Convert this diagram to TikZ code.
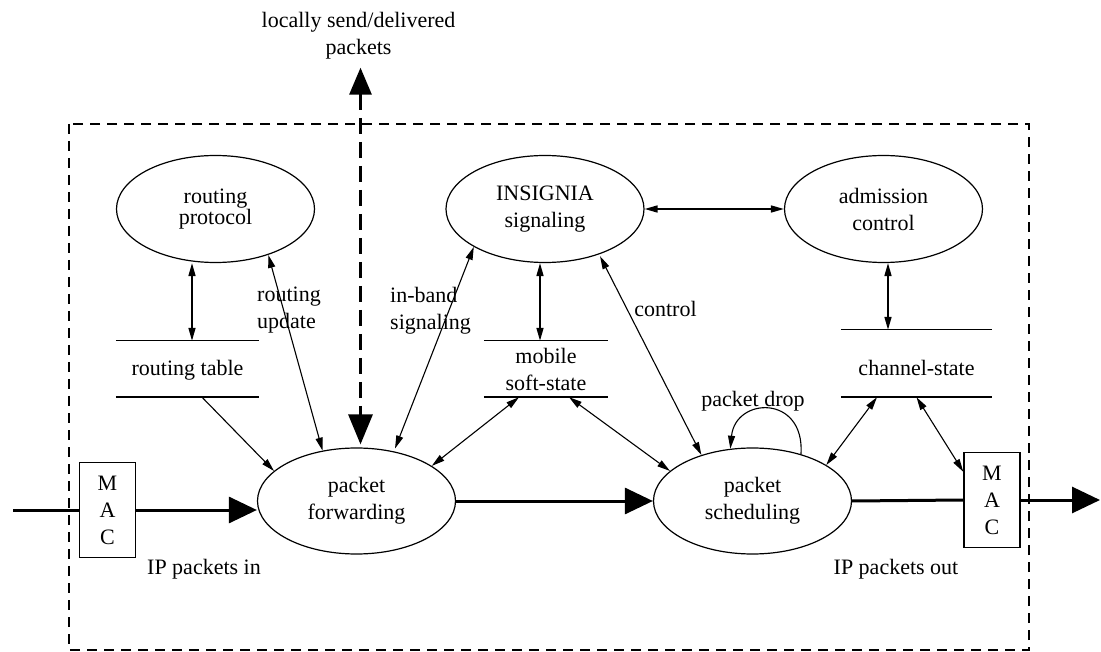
\documentclass[tikz,border=0pt]{standalone}
\usepackage{fontspec}
\setmainfont{Liberation Serif}
\usetikzlibrary{shapes.geometric,arrows.meta,calc}

\begin{document}
\begin{tikzpicture}[x=1pt,y=-1pt,
  every node/.style={font=\fontsize{22}{27}\selectfont, inner sep=0pt},
  proc/.style={ellipse, draw, line width=1.2pt, minimum width=198pt, minimum height=107pt, align=center},
  store/.style={minimum height=56pt, align=center},
  mac/.style={draw, line width=1.4pt, minimum width=56pt, minimum height=95pt, align=center},
  flow/.style={line width=3pt},
  bigtip/.style={-{Triangle[length=28pt,width=26pt]}},
  tw/.style={line width=1.1pt},
  tws/.style={line width=1.6pt},
  dbl/.style={{Triangle[length=13pt,width=7pt]}-{Triangle[length=13pt,width=7pt]}},
  sgl/.style={-{Triangle[length=13pt,width=7pt]}},
  lbl/.style={align=left},
  frame/.style={line width=1.3pt, dash pattern=on 10pt off 7pt},
  localflow/.style={line width=3pt, dash pattern=on 16pt off 8pt,
    {Triangle[length=27pt,width=22pt]}-{Triangle[length=30pt,width=24pt]}},
]
\useasboundingbox (0,0) rectangle (1101,652);

% node boundary
\draw[frame] (69,124) rectangle (1029,650);

% processes
\node[proc, font=\fontsize{22}{18}\selectfont] (rp) at (215.5,209) {routing\\protocol};
\node[proc] (ins) at (545,209) {INSIGNIA\\signaling};
\node[proc] (adm) at (883.5,209) {admission\\control};
\node[proc, minimum height=106pt] (pf) at (356.5,501) {packet\\forwarding};
\node[proc, minimum height=106pt] (ps) at (752.5,501) {packet\\scheduling};

% data stores
\node[store, minimum width=143pt, text height=19pt, text depth=5pt] (rt) at (187.5,369) {routing table};
\node[store, minimum width=124pt] (ms) at (546,369) {mobile\\soft-state};
\node[store, minimum width=151pt, minimum height=67pt, text height=30pt, text depth=5pt] (cs) at (916.5,363.5) {channel-state};
\foreach \s in {rt,ms,cs}
  \draw[line width=1.4pt] (\s.north west) -- (\s.north east) (\s.south west) -- (\s.south east);

% MAC layers
\node[mac] (macL) at (107.5,510) {M\\A\\C};
\node[mac] (macR) at (992,500) {M\\A\\C};

% labels
\node[align=center] (loc) at (358.5,36) {locally send/delivered\\packets};
\node[lbl, anchor=west] (lru) at (257,310) {routing\\update};
\node[lbl, anchor=west] (lib) at (390,311) {in-band\\signaling};
\node (lco) at (665.5,309) {control};
\node (lpd) at (753,401) {packet drop};
\node (lin) at (204,569) {IP packets in};
\node (lout) at (896,569) {IP packets out};

% data path
\coordinate (inp) at (13,510);
\coordinate (outp) at (1100,500);
\draw[flow] (inp) -- (macL.west);
\draw[flow, bigtip] (macL.east) -- (macL.east -| pf.west);
\draw[flow, bigtip] (pf.east) -- (ps.west);
\draw[flow] (ps.east) -- (macR.west);
\draw[flow, bigtip] (macR.east) -- (outp);

% locally sent / delivered packets
\coordinate (lt) at ($(loc.south)+(2,8)$);
\draw[localflow, shorten >=3pt] (lt) -- (lt |- pf.north);

% control paths
\coordinate (rtA) at ($(rt.north)+(4.5,0)$);
\draw[tws, dbl] (rtA |- rp.south) -- (rtA);
\draw[tw, dbl] (rp.-41) -- (pf.124);
\draw[tw, sgl] ($(rt.south)+(14.5,0)$) -- (pf.160);
\draw[tw, dbl, shorten >=3pt] (ins.208) -- (pf.53);
\coordinate (msA) at ($(ms.north)+(-6,0)$);
\draw[tws, dbl] (msA |- ins.south) -- (msA);
\draw[tw, dbl, shorten <=2pt] (ins.-40) -- (ps.138);
\draw[tw, dbl] ($(ms.south)+(-27,0)$) -- (pf.25);
\draw[tw, dbl] ($(ms.south)+(23,0)$) -- (ps.160);
\draw[tws, dbl] (ins.east) -- (adm.west);
\coordinate (admA) at ($(adm.south)+(4.5,0)$);
\draw[tws, dbl] (admA) -- (admA |- cs.north);
\draw[tw, dbl] ($(cs.south)+(-39.5,0)$) -- (ps.26);
\draw[tw, dbl] (cs.south) -- ($(macR.north west)+(0,20)$);
\draw[tw, sgl] (ps.44) .. controls +(4,-60) and +(5,-52) .. (ps.113);
\end{tikzpicture}
\end{document}
